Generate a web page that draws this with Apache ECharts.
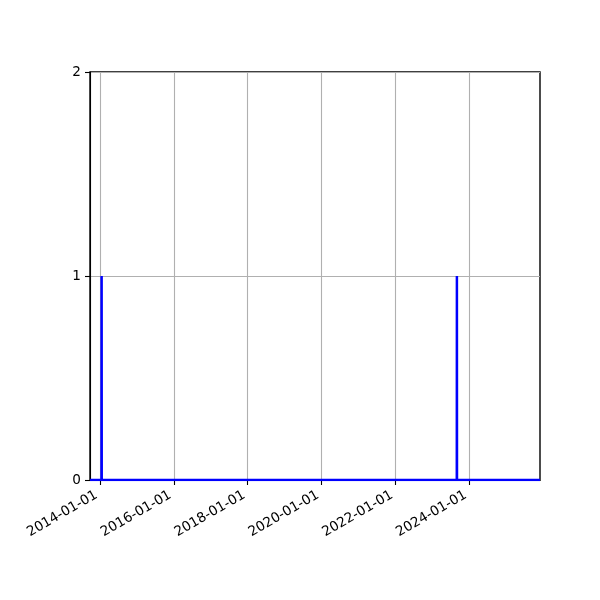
<!DOCTYPE html>
<html>
<head>
<meta charset="utf-8">
<script src="https://cdn.jsdelivr.net/npm/echarts@6/dist/echarts.min.js"></script>
<style>html,body{margin:0;padding:0;background:#fff}#c{width:600px;height:600px}</style>
</head>
<body>
<div id="c"></div>
<script>
var dates = ['2013-09-24', '2014-01-16', '2014-01-17', '2014-01-18', '2023-08-31', '2023-09-01', '2023-09-02', '2025-12-01'];
var values = [0, 0, 1, 0, 0, 1, 0, 0];
var xTickLabels = ['2014-01-01', '2016-01-01', '2018-01-01', '2020-01-01', '2022-01-01', '2024-01-01'];
var yTicks = [0, 1, 2];

var ts = function (s) { return new Date(s + 'T00:00:00Z').getTime(); };
var xTickValues = xTickLabels.map(ts);
var seriesData = dates.map(function (d, i) { return [ts(d), values[i]]; });
function fmt(v) {
  var d = new Date(v);
  var y = d.getUTCFullYear(), m = d.getUTCMonth() + 1, dd = d.getUTCDate();
  return y + '-' + (m < 10 ? '0' : '') + m + '-' + (dd < 10 ? '0' : '') + dd;
}

var chart = echarts.init(document.getElementById('c'));
chart.setOption({
  animation: false,
  grid: { left: 90, right: 60, top: 72, bottom: 120, show: true, borderColor: '#000', borderWidth: 1.4, backgroundColor: 'transparent' },
  xAxis: {
    type: 'value',
    min: ts(dates[0]),
    max: ts(dates[dates.length - 1]),
    axisLine: { show: true, onZero: false, lineStyle: { color: '#000', width: 1.1 } },
    axisTick: { show: true, customValues: xTickValues, length: 5, lineStyle: { color: '#000', width: 1.1 } },
    axisLabel: {
      customValues: xTickValues,
      rotate: 30,
      color: '#000',
      fontSize: 13.6,
      fontFamily: 'DejaVu Sans',
      margin: 12,
      padding: [0, 4, 0, 0],
      formatter: function (v) { return fmt(v); }
    },
    splitLine: { show: true, lineStyle: { color: '#b0b0b0', width: 1.1 } }
  },
  yAxis: {
    type: 'value',
    min: yTicks[0],
    max: yTicks[yTicks.length - 1],
    interval: 1,
    axisLine: { show: true, lineStyle: { color: '#000', width: 1.1 } },
    axisTick: { show: true, length: 5, lineStyle: { color: '#000', width: 1.1 } },
    axisLabel: { color: '#000', fontSize: 13.6, fontFamily: 'DejaVu Sans', margin: 9 },
    splitLine: { show: true, lineStyle: { color: '#b0b0b0', width: 1.1 } }
  },
  series: [{
    type: 'line',
    data: seriesData,
    showSymbol: false,
    symbol: 'none',
    lineStyle: { color: '#0000ff', width: 2.5 },
    itemStyle: { color: '#0000ff' }
  }]
});
</script>
</body>
</html>
